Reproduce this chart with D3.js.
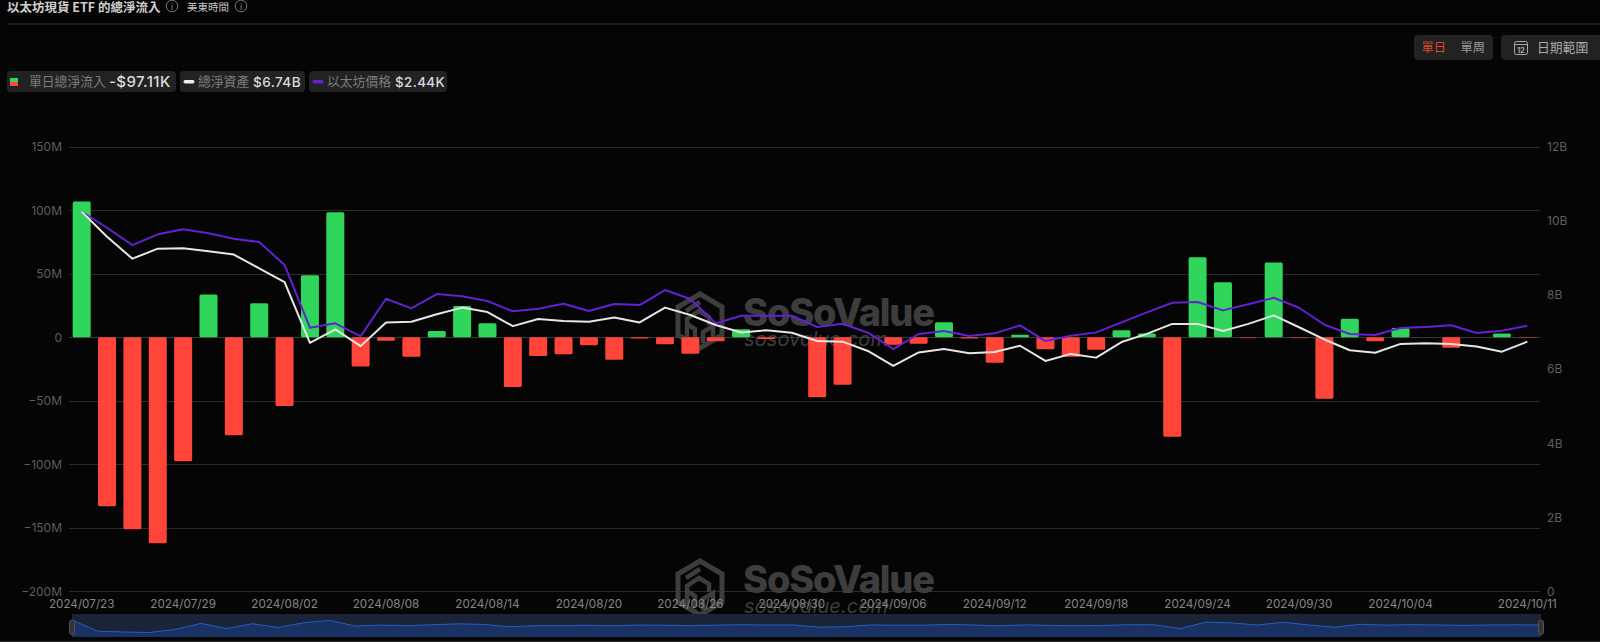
<!DOCTYPE html>
<html><head><meta charset="utf-8">
<script src="https://cdnjs.cloudflare.com/ajax/libs/d3/7.8.5/d3.min.js"></script>
<style>
html,body{margin:0;padding:0;background:#050505;overflow:hidden}
svg{display:block}
text{font-family:Inter,"Noto Sans CJK TC",sans-serif}
.cjk{font-family:"Noto Sans CJK TC",sans-serif}
</style></head><body>
<svg id="c" width="1600" height="642"></svg>
<script>
const dates=["2024/07/23","2024/07/24","2024/07/25","2024/07/26","2024/07/29","2024/07/30","2024/07/31","2024/08/01","2024/08/02","2024/08/05","2024/08/06","2024/08/07","2024/08/08","2024/08/09","2024/08/12","2024/08/13","2024/08/14","2024/08/15","2024/08/16","2024/08/19","2024/08/20","2024/08/21","2024/08/22","2024/08/23","2024/08/26","2024/08/27","2024/08/28","2024/08/29","2024/08/30","2024/09/03","2024/09/04","2024/09/05","2024/09/06","2024/09/09","2024/09/10","2024/09/11","2024/09/12","2024/09/13","2024/09/16","2024/09/17","2024/09/18","2024/09/19","2024/09/20","2024/09/23","2024/09/24","2024/09/25","2024/09/26","2024/09/27","2024/09/30","2024/10/01","2024/10/02","2024/10/03","2024/10/04","2024/10/07","2024/10/08","2024/10/09","2024/10/10","2024/10/11"];
const shownDates=["2024/07/23","2024/07/29","2024/08/02","2024/08/08","2024/08/14","2024/08/20","2024/08/26","2024/08/30","2024/09/06","2024/09/12","2024/09/18","2024/09/24","2024/09/30","2024/10/04","2024/10/11"];
const netFlowM=[107,-133,-151,-162,-97.5,33.8,-77,26.8,-54,48.8,98.4,-23,-2.7,-15.2,5,24.7,11,-39,-14.7,-13.4,-6.3,-17.6,-1,-5.5,-12.9,-3.1,6.3,-1.3,0,-47.2,-37.3,0,-5.8,-5,11.8,-1,-20,2,-9.4,-15.2,-9.7,5.5,3.1,-78.3,63,43.3,-0.7,59,-0.7,-48.3,14.7,-3,7.3,0,-8.1,0,3.1,-0.097];
const aumB=[10.25,9.57,8.98,9.25,9.26,9.18,9.09,8.72,8.35,6.71,7.07,6.62,7.26,7.28,7.48,7.66,7.54,7.16,7.35,7.30,7.28,7.39,7.26,7.66,7.46,7.19,6.99,7.05,6.98,6.76,6.74,6.49,6.09,6.45,6.54,6.43,6.46,6.63,6.22,6.41,6.31,6.73,6.95,7.22,7.22,7.03,7.22,7.45,7.13,6.80,6.51,6.44,6.68,6.70,6.68,6.61,6.47,6.74];
const ethPrice=[3488,3341,3182,3281,3327,3290,3240,3210,2999,2423,2463,2344,2689,2601,2732,2711,2668,2573,2597,2643,2576,2640,2631,2769,2686,2463,2533,2533,2533,2429,2459,2377,2227,2365,2392,2346,2371,2445,2300,2349,2380,2472,2564,2652,2659,2582,2638,2698,2606,2450,2365,2355,2420,2429,2445,2374,2395,2440];
const leftTicks=[150,100,50,0,-50,-100,-150,-200];
const rightTicks=[0,2,4,6,8,10,12];

const svg=d3.select("#c");
const C={grid:"#2b2b2b",axis:"#5e5e5e",xlab:"#858585",green:"#30D55B",red:"#FF453A",white:"#e6e6e6",purple:"#6420D2",wm:"#3d3d3d",pill:"#222222"};
const L=69,R=1540,T=146.8,B=591.4;
const x=d3.scaleBand().domain(dates).range([L,R]).paddingInner(0.29).paddingOuter(0.145);
const cx=d=>x(d)+x.bandwidth()/2;
const yL=d3.scaleLinear().domain([-200,150]).range([B,T]);
const yR=d3.scaleLinear().domain([0,12]).range([B,T]);
const yP=d3.scaleLinear().domain([0,4085]).range([B,T]);
const fmtL=v=>(v<0?"\u2212":"")+Math.abs(v)+(v===0?"":"M");

// header
svg.append("text").attr("class","cjk").attr("x",7).attr("y",11.5).attr("font-size",12.5).attr("font-weight",700).attr("fill","#cfcfcf").text("以太坊現貨 ETF 的總淨流入");
svg.append("text").attr("class","cjk").attr("x",187).attr("y",10.5).attr("font-size",10.5).attr("fill","#c4c4c4").text("美東時間");
[172,241].forEach(px=>{
  const g=svg.append("g").attr("transform",`translate(${px},6)`);
  g.append("circle").attr("r",5.8).attr("fill","none").attr("stroke","#777").attr("stroke-width",1);
  g.append("text").attr("text-anchor","middle").attr("y",3.5).attr("font-size",9).attr("fill","#888").text("i");
});
svg.append("line").attr("x1",7).attr("x2",1600).attr("y1",24).attr("y2",24).attr("stroke","#333");

// buttons
svg.append("rect").attr("x",1414).attr("y",35).attr("width",79).attr("height",25).attr("rx",4).attr("fill",C.pill);
svg.append("text").attr("class","cjk").attr("x",1421.5).attr("y",52).attr("font-size",12.2).attr("fill","#DE4A26").text("單日");
svg.append("text").attr("class","cjk").attr("x",1460.5).attr("y",52).attr("font-size",12.2).attr("fill","#999").text("單周");
svg.append("rect").attr("x",1501).attr("y",35).attr("width",105).attr("height",25).attr("rx",4).attr("fill",C.pill);
const cal=svg.append("g").attr("transform","translate(1514,40)");
cal.append("rect").attr("x",0.5).attr("y",1.5).attr("width",13).attr("height",13).attr("rx",2).attr("fill","none").attr("stroke","#aaa");
cal.append("line").attr("x1",0.5).attr("x2",13.5).attr("y1",4.5).attr("y2",4.5).attr("stroke","#aaa");
cal.append("text").attr("x",7).attr("y",12.5).attr("text-anchor","middle").attr("font-size",7).attr("font-weight",700).attr("fill","#aaa").text("12");
svg.append("text").attr("class","cjk").attr("x",1537).attr("y",52).attr("font-size",12.8).attr("fill","#aaa").text("日期範圍");

// legend
const legendItems=[
 {x:7,w:169,kind:"bar",name:"單日總淨流入",nx:29,val:"-$97.11K",vx:109,fs:15},
 {x:180,w:125,kind:"white",name:"總淨資產",nx:198,val:"$6.74B",vx:253,fs:13.6},
 {x:309,w:138,kind:"purple",name:"以太坊價格",nx:327,val:"$2.44K",vx:395,fs:13.4}];
legendItems.forEach(d=>{
  svg.append("rect").attr("x",d.x).attr("y",71).attr("width",d.w).attr("height",21).attr("rx",4).attr("fill",C.pill);
  if(d.kind==="bar"){
    svg.append("rect").attr("x",10).attr("y",78).attr("width",8).attr("height",4).attr("fill",C.green);
    svg.append("rect").attr("x",10).attr("y",82).attr("width",8).attr("height",4).attr("fill",C.red);
  }else{
    svg.append("rect").attr("x",d.x+3.5).attr("y",80).attr("width",11).attr("height",3.4).attr("rx",1.7).attr("fill",d.kind==="white"?"#f0f0f0":C.purple);
  }
  svg.append("text").attr("class","cjk").attr("x",d.nx).attr("y",86).attr("font-size",12.8).attr("fill","#7d7d7d").text(d.name);
  svg.append("text").attr("x",d.vx).attr("y",87).attr("font-size",d.fs).attr("font-weight",500).attr("letter-spacing",.4).attr("fill","#dcdcdc").text(d.val);
});

// gridlines
svg.append("g").selectAll("line").data(leftTicks).join("line")
 .attr("x1",L).attr("x2",R).attr("y1",d=>Math.round(yL(d))+.5).attr("y2",d=>Math.round(yL(d))+.5)
 .attr("stroke",d=>d===0?"#3a3a3a":C.grid);

// watermark
function watermark(cy,base,base2){
  const g=svg.append("g");
  const h=g.append("g").attr("transform",`translate(700,${cy})`).attr("fill","none").attr("stroke",C.wm);
  h.append("path").attr("stroke-width",5).attr("d","M0,-27L22,-14V14L0,27L-22,14V-14Z");
  h.append("path").attr("stroke-width",4.5).attr("d","M-13,17V-2L-1,-10L9,-4V4M13,17V5L3,11V22M-5,19V8L-13,3M0,-19L-14,-10");
  g.append("text").attr("x",743).attr("y",base).attr("font-size",38).attr("font-weight",800).attr("letter-spacing",-1.2).attr("fill",C.wm).text("SoSoValue");
  g.append("text").attr("x",744).attr("y",base2).attr("font-size",20).attr("font-style","italic").attr("letter-spacing",.1).attr("fill",C.wm).attr("font-family","Inter").text("sosovalue.com");
}
watermark(321,326,346);
watermark(588,593,613);

// left/right axes (library axes, lines removed)
const axL=svg.append("g").attr("transform",`translate(${L-7},0)`).call(d3.axisLeft(yL).tickValues(leftTicks).tickSize(0).tickPadding(0).tickFormat(fmtL));
const axR=svg.append("g").attr("transform",`translate(${R+7},0)`).call(d3.axisRight(yR).tickValues(rightTicks).tickSize(0).tickPadding(0).tickFormat(d=>d===0?"0":d+"B"));
[axL,axR].forEach(a=>{a.select(".domain").remove();a.selectAll("text").attr("font-size",12).attr("font-family","Inter").attr("fill",C.axis);});

// bars
const barPath=d=>{
  const v=d.v, y0=yL(0), y1=yL(v), X=x(d.d), w=x.bandwidth();
  const top=Math.min(y0,y1), ht=Math.max(Math.abs(y1-y0),0.6);
  return {X,top,w,ht};
};
svg.append("g").selectAll("rect").data(dates.map((d,i)=>({d,v:netFlowM[i]})).filter(d=>d.v!==0)).join("rect")
 .attr("x",d=>barPath(d).X).attr("y",d=>barPath(d).top).attr("width",d=>barPath(d).w).attr("height",d=>barPath(d).ht)
 .attr("rx",1.5).attr("fill",d=>d.v>=0?C.green:C.red)
 .attr("opacity",d=>Math.abs(d.v)<1?0.55:1);

// lines
const lineOf=(arr,sc)=>d3.line().x((_,i)=>cx(dates[i])).y((_,i)=>sc(arr[i]))(dates);
svg.append("path").attr("d",lineOf(ethPrice,yP)).attr("fill","none").attr("stroke",C.purple).attr("stroke-width",2).attr("stroke-linejoin","round");
svg.append("path").attr("d",lineOf(aumB,yR)).attr("fill","none").attr("stroke",C.white).attr("stroke-width",2).attr("stroke-linejoin","round");

// x axis
const ax=svg.append("g").attr("transform","translate(0,604)").call(d3.axisBottom(x).tickValues(shownDates).tickSize(0).tickPadding(0));
ax.select(".domain").remove();
ax.selectAll("text").attr("font-size",11.7).attr("font-family","Inter").attr("fill",C.xlab).attr("dy","0.36em").attr("y",0);

// slider
const SL=72,SR=1541,ST=614,SB=637;
const sx=d3.scalePoint().domain(dates).range([SL,SR]);
const sy=d3.scaleLinear().domain(d3.extent(netFlowM)).range([632.5,620]);
svg.append("rect").attr("x",SL).attr("y",ST).attr("width",SR-SL).attr("height",SB-ST).attr("fill","#1b2338");
svg.append("path").attr("d",d3.area().x((_,i)=>sx(dates[i])).y0(SB).y1((_,i)=>sy(netFlowM[i]))(dates)).attr("fill","#193263");
svg.append("path").attr("d",d3.line().x((_,i)=>sx(dates[i])).y((_,i)=>sy(netFlowM[i]))(dates)).attr("fill","none").attr("stroke","#2360BE").attr("stroke-width",1);
[SL,SR].forEach(px=>svg.append("rect").attr("x",px-2.5).attr("y",620).attr("width",5).attr("height",14.5).attr("rx",2.5).attr("fill","#333").attr("stroke","#555"));
svg.append("line").attr("x1",0).attr("x2",1600).attr("y1",641.5).attr("y2",641.5).attr("stroke","#2b2b2b");
</script>
</body></html>
